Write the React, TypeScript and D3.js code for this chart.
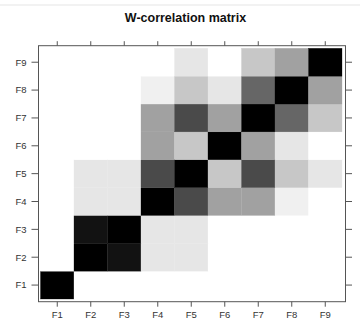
import React from "react";
import * as d3 from "d3";

const labels = ["F1", "F2", "F3", "F4", "F5", "F6", "F7", "F8", "F9"];
// W-correlation values, row i (F1..F9) x column j (F1..F9)
const wcor: number[][] = [
  [1, 0, 0, 0, 0, 0, 0, 0, 0],
  [0, 1, 0.93, 0.1, 0.1, 0, 0, 0, 0],
  [0, 0.93, 1, 0.1, 0.1, 0, 0, 0, 0],
  [0, 0.1, 0.1, 1, 0.71, 0.37, 0.37, 0.06, 0],
  [0, 0.1, 0.1, 0.71, 1, 0.22, 0.71, 0.22, 0.1],
  [0, 0, 0, 0.37, 0.22, 1, 0.37, 0.1, 0],
  [0, 0, 0, 0.37, 0.71, 0.37, 1, 0.6, 0.22],
  [0, 0, 0, 0.06, 0.22, 0.1, 0.6, 1, 0.37],
  [0, 0, 0, 0, 0.1, 0, 0.22, 0.37, 1],
];

export default function App() {
  const W = 360, H = 320;
  const box = { l: 38.5, r: 345.5, t: 45.7, b: 301.7 };
  const x = d3.scaleBand<string>().domain(labels).range([40.5, 342]).padding(0);
  const y = d3.scaleBand<string>().domain([...labels].reverse()).range([48.3, 299]).padding(0);
  const color = d3.scaleLinear<string>().domain([0, 1]).range(["#ffffff", "#000000"]);
  const font = "'Liberation Sans', Arial, sans-serif";
  const axisCol = "#555";
  const textCol = "#333";
  const cells: React.ReactNode[] = [];
  wcor.forEach((row, i) =>
    row.forEach((v, j) => {
      cells.push(
        <rect
          key={`${i}-${j}`}
          x={x(labels[j])!}
          y={y(labels[i])!}
          width={x.bandwidth()}
          height={y.bandwidth()}
          fill={color(v)}
          stroke={color(v)}
          strokeWidth={0.3}
        />
      );
    })
  );
  return (
    <svg
      width={W}
      height={H}
      style={{ position: "absolute", left: 0, top: 0, background: "#fff" }}
    >
      <line x1={0} x2={W} y1={5} y2={5} stroke="#eeeeee" strokeWidth={1.5} />
      <text
        x={185.5}
        y={21.5}
        textAnchor="middle"
        fontFamily={font}
        fontWeight="bold"
        fontSize={12.5}
        fill="#111"
      >
        W-correlation matrix
      </text>
      {cells}
      <rect
        x={box.l}
        y={box.t}
        width={box.r - box.l}
        height={box.b - box.t}
        fill="none"
        stroke={axisCol}
        strokeWidth={1}
      />
      {labels.map((l) => {
        const cx = x(l)! + x.bandwidth() / 2;
        const cy = y(l)! + y.bandwidth() / 2;
        return (
          <g key={l}>
            <line x1={cx} x2={cx} y1={box.b} y2={box.b + 5} stroke={axisCol} />
            <line x1={cx} x2={cx} y1={box.t} y2={box.t - 4.5} stroke={axisCol} />
            <line x1={box.l} x2={box.l - 7} y1={cy} y2={cy} stroke={axisCol} />
            <line x1={box.r} x2={box.r + 6.5} y1={cy} y2={cy} stroke={axisCol} />
            <text
              x={cx}
              y={317.5}
              textAnchor="middle"
              fontFamily={font}
              fontSize={9.5}
              fill={textCol}
            >
              {l}
            </text>
            <text
              x={26.5}
              y={cy + 3.4}
              textAnchor="end"
              fontFamily={font}
              fontSize={9.5}
              fill={textCol}
            >
              {l}
            </text>
          </g>
        );
      })}
    </svg>
  );
}
